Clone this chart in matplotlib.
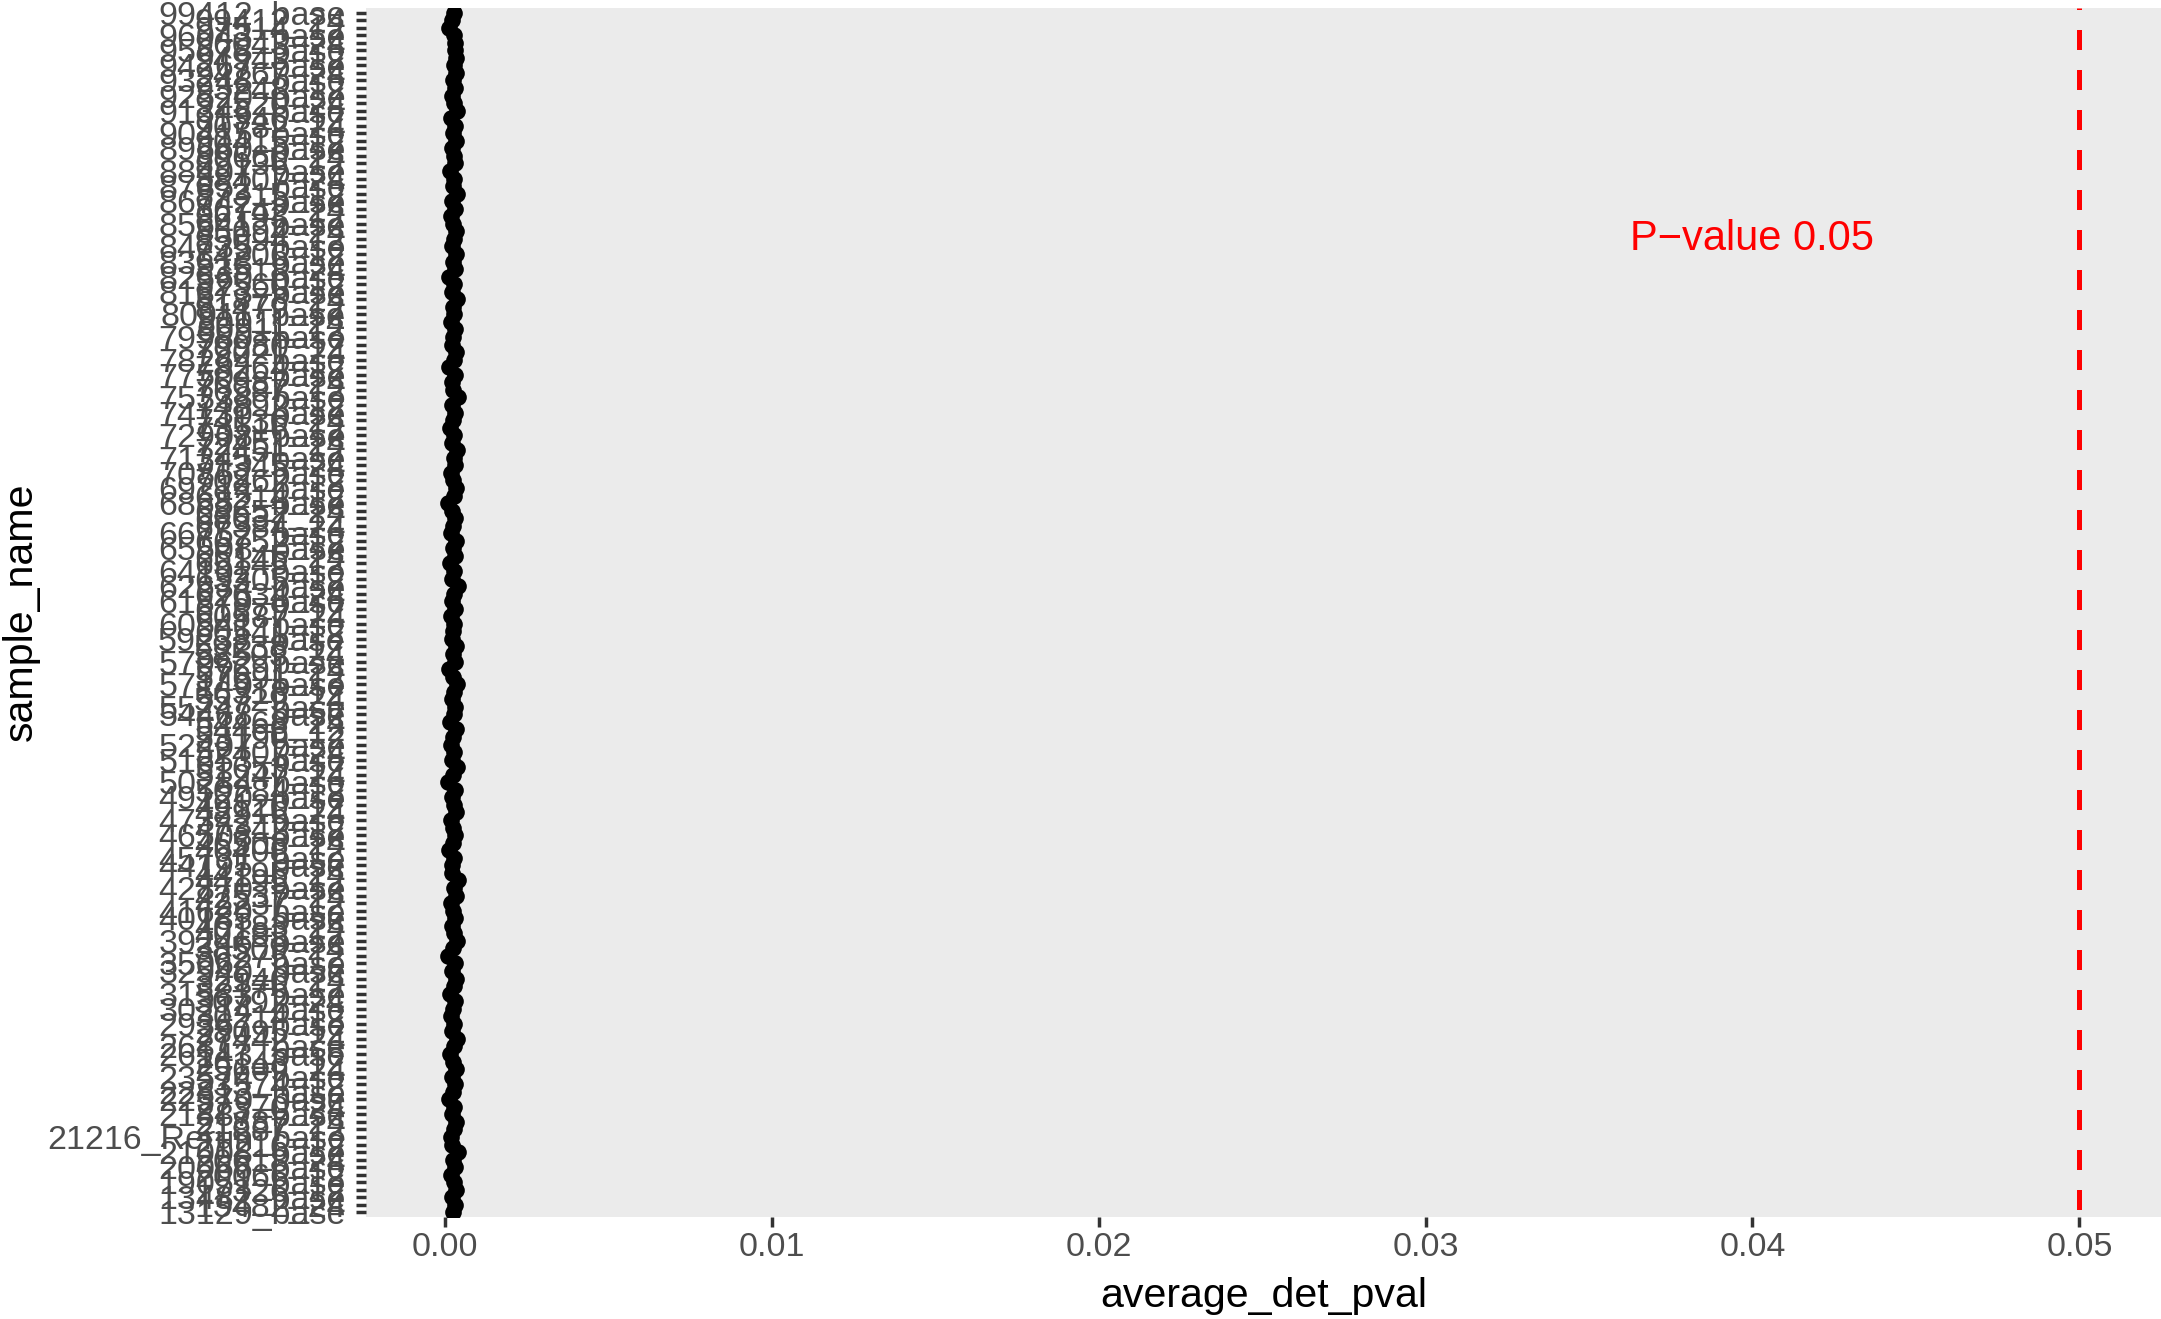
import matplotlib
matplotlib.use("Agg")
import matplotlib.pyplot as plt
from matplotlib.ticker import FormatStrFormatter

# ------------------------------------------------------------
# data (bottom -> top, as the factor levels are ordered)
# ------------------------------------------------------------
sample_name = [
    "13129_base", "13482_24", "13482_base", "17326_12", "19051_base",
    "20066_12", "20066_base", "20618_24", "21008_base", "21216_12", "21216_Rerun_base",
    "21887_12", "21887_24", "21887_base", "22370_24", "22370_base", "22813_base",
    "23574_12", "23574_base", "25609_24", "26143_12", "26143_base", "26817_base",
    "27442_24", "28095_12", "29367_base",
    "30214_12", "30214_base", "30792_24", "31583_base", "32176_12", "32940_24",
    "32940_base", "35062_base", "36275_12", "38509_24", "39246_base",
    "40183_12", "40183_24", "40183_base", "41620_base", "42237_12", "42537_24",
    "42870_base", "44195_12", "44195_24", "44195_base", "45731_base", "46408_12",
    "46508_24", "46508_base", "47342_12", "47342_base", "48916_24", "49120_12",
    "49120_base",
    "50284_12", "50284_base", "51247_24", "51653_12", "51653_base", "52407_24",
    "52407_base", "53190_12", "54468_12", "54468_24", "54468_base", "55247_base",
    "55729_24", "56318_12", "57140_base", "57691_12", "57691_24", "57962_base",
    "58503_24", "59238_12", "59238_base",
    "60541_12", "60541_base", "60587_24", "61879_12", "61879_base", "62634_24",
    "62634_base", "63305_12", "64102_base", "65145_12", "65145_24", "65508_base",
    "66752_12", "66752_base", "67384_24", "68037_12", "68652_24", "68652_base",
    "69214_12", "69214_base",
    "70862_12", "70862_base", "71345_24", "71345_base", "72451_12", "72451_24",
    "72908_base", "73516_12", "74130_24", "74130_base", "74892_12", "75338_base",
    "76987_12", "76987_24", "77504_base", "78264_12", "78264_base", "79021_24",
    "79980_12", "79980_base",
    "80911_12", "80911_24", "80911_base", "81479_12", "81873_24", "81873_base",
    "82560_12", "82560_base", "83518_24", "83518_base", "84206_12", "84735_base",
    "85094_12", "85094_24", "85641_base", "86193_12", "86742_24", "86742_base",
    "87315_12", "87852_base", "88407_24", "88407_base", "89136_12", "89660_24",
    "89660_base",
    "90415_12", "90415_base", "90782_24", "91346_12", "91346_base", "92520_24",
    "92520_base", "93248_12", "93248_base", "94267_24", "94267_base", "94943_12",
    "95678_base", "96043_24", "96043_base", "97514_12", "99412_24", "99412_base",
]

average_det_pval = [
    0.00027, 0.00031, 0.00022, 0.00035, 0.00029, 0.00018, 0.00033, 0.00026, 0.00040, 0.00024,
    0.00019, 0.00030, 0.00036, 0.00023, 0.00028, 0.00012, 0.00025, 0.00032, 0.00021, 0.00034,
    0.00027, 0.00015, 0.00029, 0.00038, 0.00024, 0.00030, 0.00020, 0.00026, 0.00033, 0.00017,
    0.00028, 0.00035, 0.00022, 0.00031, 0.00011, 0.00025, 0.00037, 0.00029, 0.00023, 0.00032,
    0.00026, 0.00019, 0.00034, 0.00028, 0.00041, 0.00024, 0.00021, 0.00030, 0.00014, 0.00027,
    0.00033, 0.00025, 0.00018, 0.00036, 0.00029, 0.00022, 0.00031, 0.00009, 0.00026, 0.00038,
    0.00024, 0.00030, 0.00020, 0.00027, 0.00034, 0.00016, 0.00028, 0.00032, 0.00023, 0.00029,
    0.00039, 0.00025, 0.00013, 0.00031, 0.00027, 0.00035, 0.00021, 0.00026, 0.00030, 0.00018,
    0.00033, 0.00024, 0.00028, 0.00042, 0.00022, 0.00029, 0.00015, 0.00032, 0.00026, 0.00036,
    0.00020, 0.00027, 0.00031, 0.00024, 0.00010, 0.00029, 0.00034, 0.00025, 0.00019, 0.00033,
    0.00028, 0.00037, 0.00023, 0.00030, 0.00017, 0.00026, 0.00032, 0.00021, 0.00040, 0.00027,
    0.00024, 0.00031, 0.00014, 0.00029, 0.00035, 0.00022, 0.00027, 0.00033, 0.00019, 0.00030,
    0.00026, 0.00038, 0.00023, 0.00028, 0.00012, 0.00032, 0.00025, 0.00036, 0.00021, 0.00029,
    0.00034, 0.00027, 0.00018, 0.00031, 0.00024, 0.00039, 0.00026, 0.00030, 0.00016, 0.00033,
    0.00028, 0.00022, 0.00035, 0.00025, 0.00031, 0.00020, 0.00037, 0.00029, 0.00024, 0.00032,
    0.00027, 0.00034, 0.00030, 0.00035, 0.00033, 0.00031, 0.00029, 0.00014, 0.00021, 0.00028,
]

pval_cutoff = 0.05
cutoff_label = "P\u2212value 0.05"
label_x = 0.04
label_row = 129
x_ticks = [0.00, 0.01, 0.02, 0.03, 0.04, 0.05]

# ------------------------------------------------------------
# figure
# ------------------------------------------------------------
plt.rcParams['font.family'] = ['Liberation Sans', 'DejaVu Sans']

fig = plt.figure(figsize=(21.61, 13.19), dpi=100)
ax = fig.add_axes([366 / 2161, 102 / 1319, 1 - 366 / 2161, (1217 - 8) / 1319])
ax.set_facecolor('#EBEBEB')
for s in ax.spines.values():
    s.set_visible(False)

rows = list(range(len(sample_name)))
ax.plot(average_det_pval, rows, 'o', color='black', markersize=12,
        markeredgewidth=0, linestyle='none', zorder=3)

ax.axvline(pval_cutoff, color='#FF0000', linewidth=3.6,
           linestyle=(6.5, (4, 4)), zorder=2)
ax.text(label_x, label_row, cutoff_label, color='#FF0000', fontsize=30,
        ha='center', va='center')

# ggplot-like expansion: 5% continuous, 0.6 discrete
lo = min(average_det_pval)
hi = pval_cutoff
span = hi - lo
ax.set_xlim(lo - 0.05 * span, hi + 0.05 * span)
ax.set_ylim(-0.6, len(sample_name) - 1 + 0.6)

ax.set_xticks(x_ticks)
ax.xaxis.set_major_formatter(FormatStrFormatter('%.2f'))
ax.set_yticks(rows)
ax.set_yticklabels(sample_name)

ax.tick_params(axis='both', colors='#333333', labelcolor='#4D4D4D',
               labelsize=24.5, length=7.5, width=2.5)
ax.tick_params(axis='x', pad=3)
ax.tick_params(axis='y', pad=7)

fig.text((366 + 2161) / 2 / 2161, 12 / 1319, 'average_det_pval',
         fontsize=29.6, ha='center', va='baseline', color='black')
fig.text(21 / 2161, 1 - 612 / 1319, 'sample_name', rotation=90,
         fontsize=29.6, ha='center', va='center', color='black')

fig.savefig('out.png', dpi=100)
